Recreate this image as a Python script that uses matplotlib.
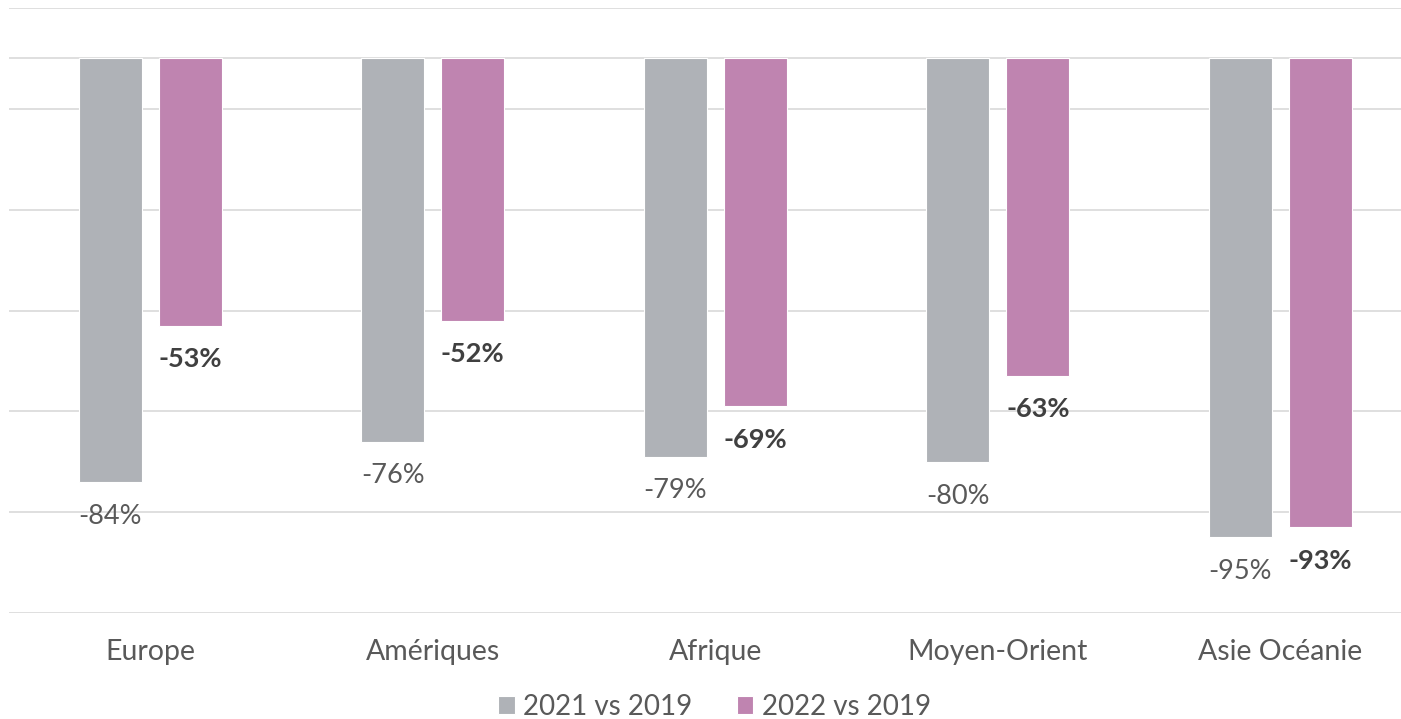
import matplotlib.pyplot as plt
import numpy as np

regions = ['Europe', 'Amériques', 'Afrique', 'Moyen-Orient', 'Asie Océanie']
v2021 = [-84, -76, -79, -80, -95]
v2022 = [-53, -52, -69, -63, -93]
series_names = ['2021 vs 2019', '2022 vs 2019']

gray = '#AFB2B7'
pink = '#BF84B0'
grid_col = '#D9D9D9'
text_col = '#595959'

plt.rcParams['font.family'] = ['Lato', 'DejaVu Sans']

fig = plt.figure(figsize=(14.01, 7.19), dpi=100)
ax = fig.add_axes([9 / 1401, 106 / 719, 1 - 9 / 1401, 605 / 719])

x = np.arange(len(regions))
w = 0.223
off = 0.1416
b1 = ax.bar(x - off, v2021, w, color=gray, edgecolor='white', linewidth=0.8,
            label=series_names[0], zorder=3)
b2 = ax.bar(x + off, v2022, w, color=pink, edgecolor='white', linewidth=0.8,
            label=series_names[1], zorder=3)

# data labels under each bar end
for xi, v in zip(x, v2021):
    ax.text(xi - off, v - 6.8, f'{v}%', ha='center', va='center',
            fontsize=19.5, color=text_col)
for xi, v in zip(x, v2022):
    ax.text(xi + off, v - 6.6, f'{v}%', ha='center', va='center',
            fontsize=19.5, color='#404040', fontweight='bold')

ax.set_ylim(-110, 10)
ax.set_xlim(-0.5, -0.5 + 1392 / 282.5)
for yv in np.arange(-110, 11, 20):
    ax.axhline(yv, color=grid_col, linewidth=1.2, zorder=1)
ax.axhline(0, color=grid_col, linewidth=1.2, zorder=1)

ax.set_yticks([])
ax.set_xticks(x)
ax.set_xticklabels(regions, fontsize=20.5, color=text_col)
ax.tick_params(axis='x', length=0, pad=19)
for s in ax.spines.values():
    s.set_visible(False)

leg = fig.legend(handles=[b1, b2], loc='center', ncol=2, frameon=False,
                 fontsize=20, handlelength=0.6, handleheight=0.6,
                 handletextpad=0.3, columnspacing=1.6, labelcolor=text_col,
                 borderaxespad=0)
leg.set_bbox_to_anchor((0.51, 12 / 719), transform=fig.transFigure)

fig.savefig('out.png', dpi=100)
